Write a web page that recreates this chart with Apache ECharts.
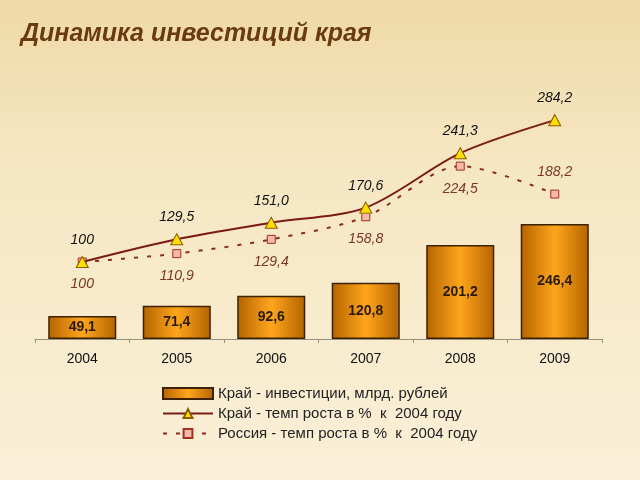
<!DOCTYPE html>
<html><head><meta charset="utf-8">
<script src="https://cdn.jsdelivr.net/npm/echarts@6/dist/echarts.min.js"></script>
<style>html,body{margin:0;padding:0;}#c{width:640px;height:480px;}</style>
</head><body><div id="c"></div>
<script>
const years = ['2004','2005','2006','2007','2008','2009'];
const investments = [49.1, 71.4, 92.6, 120.8, 201.2, 246.4];
const krayGrowth = [100, 129.5, 151.0, 170.6, 241.3, 284.2];
const russiaGrowth = [100, 110.9, 129.4, 158.8, 224.5, 188.2];
const seriesNames = ['Край - инвестиции, млрд. рублей', 'Край - темп роста в %  к  2004 году', 'Россия - темп роста в %  к  2004 году'];

function fmt(v){ return v === 100 ? '100' : v.toFixed(1).replace('.', ','); }

const chart = echarts.init(document.getElementById('c'));
chart.setOption({
  backgroundColor: {type:'linear', x:0, y:0, x2:0, y2:1, colorStops:[
    {offset:0, color:'#efd9a6'}, {offset:0.35, color:'#f6e7c3'}, {offset:1, color:'#faf0d8'}]},
  title: {text:'Динамика инвестиций края', left:16, top:17,
    textStyle:{fontFamily:'Liberation Sans, Arial', fontSize:25, fontStyle:'italic', fontWeight:'bold', color:'#6a3a12'}},
  legend: {orient:'vertical', left:157, top:381, itemWidth:50, itemHeight:11, itemGap:5,
    textStyle:{fontFamily:'Liberation Sans, Arial', fontSize:15, color:'#222'},
    data: [{name:seriesNames[0], icon:'rect'}, {name:seriesNames[1]}, {name:seriesNames[2]}]},
  grid: {left:35, right:38, top:31, bottom:141},
  xAxis: {type:'category', data:years, boundaryGap:true,
    axisLine:{lineStyle:{color:'#9a9080', width:1}},
    axisTick:{show:true, length:4, lineStyle:{color:'#9a9080'}},
    axisLabel:{fontFamily:'Liberation Sans, Arial', fontSize:14, color:'#111', margin:13}},
  yAxis: [
    {type:'value', min:0, max:660, show:false, splitLine:{show:false}},
    {type:'value', min:0, max:400, show:false, splitLine:{show:false}}
  ],
  series: [
    {name:seriesNames[0], type:'bar', data:investments, yAxisIndex:0, barWidth:'72%',
      itemStyle:{color:{type:'linear', x:0, y:0, x2:1, y2:0, colorStops:[
        {offset:0, color:'#b46400'}, {offset:0.5, color:'#ffa51c'}, {offset:1, color:'#b46400'}]},
        borderColor:'#3c2205', borderWidth:1.5},
      label:{show:true, position:'inside', formatter:p=>fmt(p.value),
        fontFamily:'Liberation Sans, Arial', fontSize:14, fontWeight:'bold', color:'#2a1a08'}},
    {name:seriesNames[1], type:'line', data:krayGrowth, yAxisIndex:1, smooth:0.3,
      symbol:'triangle', symbolSize:[12,11],
      lineStyle:{color:'#7a1a12', width:2},
      itemStyle:{color:'#ffe000', borderColor:'#8a5a00', borderWidth:1},
      label:{show:true, position:'top', distance:9, formatter:p=>fmt(p.value),
        fontFamily:'Liberation Sans, Arial', fontSize:14, fontStyle:'italic', color:'#111'}, z:4},
    {name:seriesNames[2], type:'line', data:russiaGrowth.map((v,i)=> i===5 ? {value:v, label:{position:'top', distance:10}} : v),
      yAxisIndex:1, smooth:0.3,
      symbol:'rect', symbolSize:8,
      lineStyle:{color:'#8a2a1a', width:2, type:[4,9]},
      itemStyle:{color:'#f6b8a8', borderColor:'#a03020', borderWidth:1},
      label:{show:true, position:'bottom', distance:11, formatter:p=>fmt(p.value),
        fontFamily:'Liberation Sans, Arial', fontSize:14, fontStyle:'italic', color:'#7a3428'}, z:3}
  ]
});
</script></body></html>
